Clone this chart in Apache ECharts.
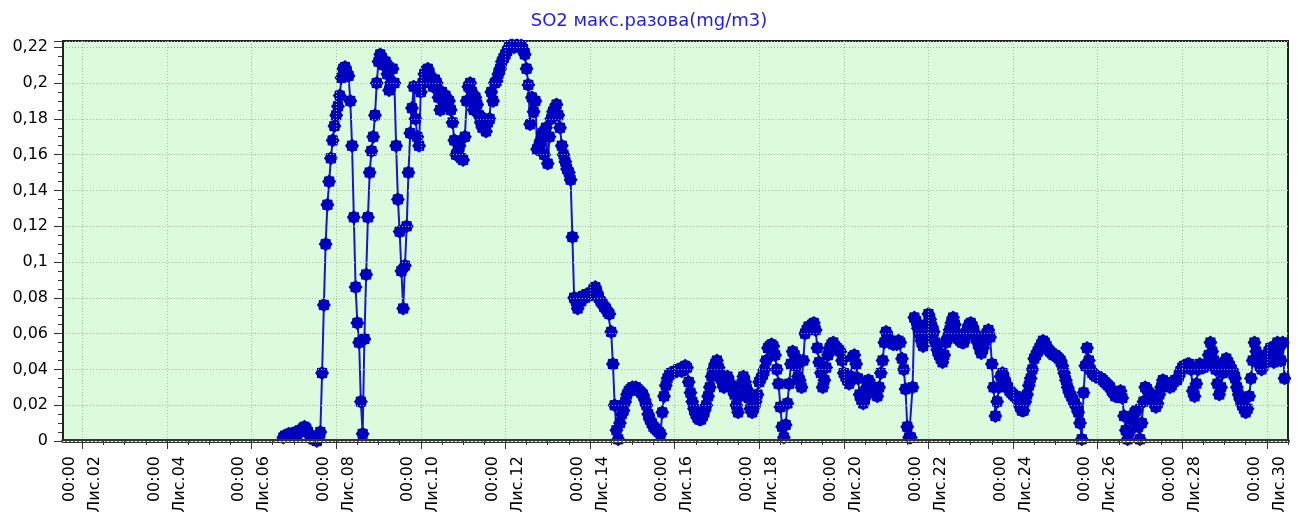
<!DOCTYPE html>
<html><head><meta charset="utf-8">
<script src="https://cdn.jsdelivr.net/npm/echarts@6/dist/echarts.min.js"></script>
<style>html,body{margin:0;padding:0;background:#fff}#c{width:1298px;height:519px}</style>
</head><body><div id="c"></div>
<script>
// ---- chart data ----
const titleText = 'SO2 макс.разова(mg/m3)';
// x is measured in hours since 00:00 on Лис.01
const axisMinHour = 13;     // Лис.01 13:00
const axisMaxHour = 708;    // Лис.30 12:00
const startHour = 138;      // first sample: Лис.06 18:00, hourly samples
const dayLabels = ['Лис.02','Лис.04','Лис.06','Лис.08','Лис.10','Лис.12','Лис.14','Лис.16','Лис.18','Лис.20','Лис.22','Лис.24','Лис.26','Лис.28','Лис.30'];
const majorTickHours = [24,72,120,168,216,264,312,360,408,456,504,552,600,648,696];
const timeLabel = '00:00';
const yMax = 0.2235;
const yInterval = 0.02;

const so2Values = [
  // Лис.06 18-23
  0.002,0.003,0.003,0.004,0.003,0.004,
  // Лис.07
  0.004,0.005,0.004,0.005,0.006,0.007,0.008,0.007,0.005,0.003,0.002,0.001,0.001,0.000,0.002,0.005,0.038,0.076,0.110,0.132,0.145,0.158,0.168,0.176,
  // Лис.08
  0.182,0.187,0.193,0.203,0.208,0.209,0.206,0.204,0.190,0.165,0.125,0.086,0.066,0.055,0.022,0.004,0.057,0.093,0.125,0.150,0.162,0.170,0.182,0.200,
  // Лис.09
  0.212,0.216,0.214,0.210,0.212,0.205,0.196,0.200,0.208,0.200,0.165,0.135,0.117,0.095,0.074,0.098,0.120,0.150,0.172,0.186,0.198,0.180,0.170,0.165,
  // Лис.10
  0.195,0.200,0.205,0.207,0.208,0.205,0.200,0.198,0.202,0.200,0.192,0.185,0.195,0.190,0.193,0.188,0.190,0.185,0.178,0.168,0.160,0.162,0.165,0.158,
  // Лис.11
  0.157,0.170,0.190,0.198,0.200,0.195,0.185,0.192,0.188,0.182,0.178,0.175,0.180,0.173,0.178,0.180,0.195,0.190,0.200,0.201,0.205,0.208,0.212,0.214,
  // Лис.12
  0.216,0.218,0.220,0.221,0.221,0.220,0.221,0.221,0.220,0.221,0.219,0.216,0.208,0.199,0.177,0.192,0.184,0.190,0.163,0.165,0.168,0.172,0.160,0.175,
  // Лис.13
  0.155,0.170,0.180,0.184,0.186,0.188,0.182,0.175,0.165,0.160,0.156,0.152,0.150,0.146,0.114,0.080,0.078,0.074,0.080,0.078,0.081,0.080,0.082,0.081,
  // Лис.14
  0.082,0.083,0.085,0.086,0.083,0.080,0.078,0.077,0.075,0.074,0.072,0.071,0.061,0.043,0.020,0.006,0.001,0.010,0.015,0.017,0.022,0.026,0.028,0.029,
  // Лис.15
  0.030,0.029,0.030,0.029,0.028,0.027,0.026,0.023,0.020,0.015,0.012,0.010,0.008,0.007,0.006,0.005,0.004,0.016,0.025,0.031,0.035,0.037,0.038,0.038,
  // Лис.16
  0.039,0.039,0.040,0.040,0.039,0.041,0.042,0.041,0.033,0.027,0.022,0.018,0.015,0.013,0.012,0.012,0.014,0.017,0.020,0.025,0.030,0.036,0.040,0.043,
  // Лис.17
  0.045,0.041,0.037,0.033,0.030,0.034,0.036,0.033,0.031,0.029,0.026,0.020,0.016,0.025,0.032,0.036,0.033,0.029,0.024,0.018,0.016,0.019,0.022,0.026,
  // Лис.18
  0.033,0.035,0.037,0.040,0.045,0.052,0.053,0.054,0.053,0.048,0.040,0.032,0.019,0.008,0.002,0.009,0.021,0.032,0.043,0.050,0.048,0.042,0.036,0.034,
  // Лис.19
  0.030,0.045,0.060,0.062,0.064,0.063,0.065,0.066,0.062,0.052,0.044,0.038,0.030,0.034,0.041,0.048,0.052,0.054,0.055,0.053,0.052,0.051,0.050,0.045,
  // Лис.20
  0.038,0.036,0.034,0.032,0.036,0.047,0.048,0.043,0.035,0.026,0.023,0.021,0.024,0.030,0.034,0.032,0.030,0.029,0.027,0.025,0.030,0.038,0.045,0.055,
  // Лис.21
  0.061,0.058,0.056,0.055,0.054,0.055,0.054,0.056,0.055,0.046,0.040,0.029,0.008,0.002,0.002,0.030,0.069,0.067,0.063,0.060,0.056,0.053,0.058,0.065,
  // Лис.22
  0.071,0.068,0.064,0.061,0.055,0.051,0.048,0.046,0.044,0.048,0.055,0.058,0.062,0.066,0.069,0.065,0.060,0.057,0.056,0.055,0.055,0.058,0.062,0.065,
  // Лис.23
  0.066,0.064,0.061,0.058,0.055,0.052,0.049,0.052,0.056,0.060,0.062,0.058,0.043,0.030,0.014,0.022,0.030,0.036,0.038,0.035,0.032,0.030,0.028,0.027,
  // Лис.24
  0.026,0.025,0.025,0.022,0.019,0.017,0.017,0.022,0.026,0.031,0.035,0.040,0.046,0.048,0.050,0.052,0.054,0.056,0.055,0.053,0.051,0.050,0.049,0.048,
  // Лис.25
  0.048,0.047,0.046,0.045,0.042,0.038,0.034,0.030,0.027,0.025,0.023,0.021,0.019,0.016,0.010,0.001,0.027,0.042,0.052,0.045,0.040,0.038,0.037,0.036,
  // Лис.26
  0.036,0.035,0.035,0.034,0.033,0.032,0.031,0.030,0.028,0.027,0.025,0.025,0.027,0.028,0.024,0.014,0.006,0.001,0.005,0.012,0.014,0.016,0.017,0.008,
  // Лис.27
  0.001,0.010,0.022,0.030,0.029,0.027,0.026,0.024,0.022,0.019,0.021,0.026,0.030,0.034,0.033,0.032,0.031,0.030,0.031,0.033,0.034,0.034,0.036,0.039,
  // Лис.28
  0.041,0.042,0.042,0.043,0.043,0.040,0.028,0.025,0.032,0.040,0.043,0.042,0.041,0.042,0.043,0.048,0.055,0.050,0.045,0.040,0.032,0.026,0.030,0.038,
  // Лис.29
  0.044,0.046,0.044,0.042,0.040,0.038,0.035,0.030,0.026,0.023,0.020,0.018,0.016,0.018,0.025,0.035,0.045,0.055,0.050,0.045,0.042,0.040,0.042,0.045,
  // Лис.30 00-10
  0.048,0.050,0.052,0.048,0.044,0.050,0.055,0.052,0.045,0.055,0.035
];

// ---- build ----
const seriesData = so2Values.map((v, i) => [startHour + i, v]);
const minorTickHours = [];
for (let h = majorTickHours[0]; h <= axisMaxHour; h += 12) minorTickHours.push(h);
const labelByHour = {};
majorTickHours.forEach((h, i) => { labelByHour[h] = timeLabel + '\n' + dayLabels[i]; });

function starPath(n, rIn) {
  let d = '';
  for (let k = 0; k < 2 * n; k++) {
    const a = k * Math.PI / n - Math.PI / 2;
    const r = (k % 2) ? rIn : 1;
    d += (k ? 'L' : 'M') + (50 + 50 * r * Math.cos(a)).toFixed(2) + ' ' + (50 + 50 * r * Math.sin(a)).toFixed(2);
  }
  return 'path://' + d + 'Z';
}

const FONT = 'DejaVu Sans';
const gridColor = '#a6baa6';

const chart = echarts.init(document.getElementById('c'), null, {renderer: 'canvas'});
chart.setOption({
  animation: false,
  backgroundColor: '#ffffff',
  title: {
    text: titleText, left: 'center', top: 7,
    textStyle: {color: '#1c1cf0', fontFamily: FONT, fontSize: 18, fontWeight: 'normal'}
  },
  grid: {left: 63, right: 10, top: 41, bottom: 78, show: true,
         backgroundColor: '#dcfbdc', borderColor: '#222', borderWidth: 2},
  xAxis: [{
    type: 'value', min: axisMinHour, max: axisMaxHour, position: 'bottom', z: 10,
    axisLine: {show: true, onZero: false, lineStyle: {color: '#333', width: 4}},
    axisTick: {show: true, customValues: majorTickHours, length: 8, lineStyle: {color: '#333', width: 1}},
    axisLabel: {
      customValues: majorTickHours, rotate: 90, margin: 15,
      fontFamily: FONT, fontSize: 16, color: '#000', lineHeight: 25,
      formatter: v => labelByHour[Math.round(v)] || ''
    },
    splitLine: {show: true, lineStyle: {color: gridColor, width: 1, type: [1, 2]}}
  }, {
    type: 'value', min: axisMinHour, max: axisMaxHour, position: 'bottom', z: 11,
    axisLine: {show: true, onZero: false, lineStyle: {color: '#e8e8e8', width: 1, type: [2, 2]}},
    axisTick: {show: true, customValues: minorTickHours, length: 4, lineStyle: {color: '#333', width: 1}},
    axisLabel: {show: false},
    splitLine: {show: false}
  }],
  yAxis: [{
    type: 'value', min: 0, max: yMax, interval: yInterval, position: 'left', z: 10,
    axisLine: {show: true, lineStyle: {color: '#222', width: 2}},
    axisTick: {show: true, length: 9, lineStyle: {color: '#333', width: 1}},
    axisLabel: {
      margin: 15, fontFamily: FONT, fontSize: 16, color: '#000',
      formatter: v => {
        const k = Math.round(v / yInterval);
        if (Math.abs(v - k * yInterval) > 1e-9) return '';
        return String(+(k * yInterval).toFixed(2)).replace('.', ',');
      }
    },
    splitLine: {show: true, lineStyle: {color: gridColor, width: 1, type: [1, 2]}}
  }, {
    type: 'value', min: 0, max: yMax, interval: 0.005, position: 'left', z: 9,
    axisLine: {show: false},
    axisTick: {show: true, length: 5, lineStyle: {color: '#333', width: 1}},
    axisLabel: {show: false},
    splitLine: {show: false}
  }],
  series: [{
    type: 'line', xAxisIndex: 0, yAxisIndex: 0,
    data: seriesData,
    symbol: starPath(8, 0.82), symbolSize: 14, showAllSymbol: true,
    itemStyle: {color: '#0000c0'},
    lineStyle: {color: '#1515d5', width: 2},
    clip: true, z: 5
  }]
});
</script></body></html>
